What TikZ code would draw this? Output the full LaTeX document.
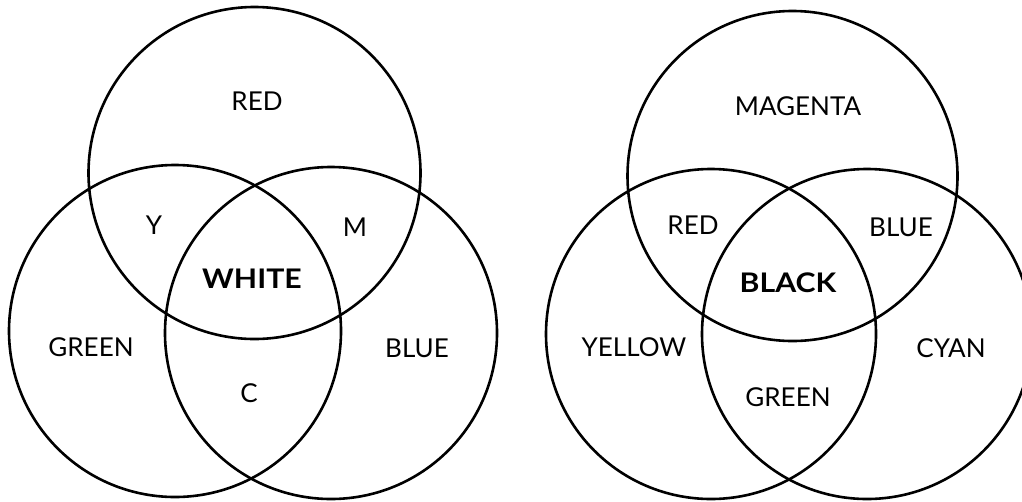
\documentclass[tikz,border=0pt]{standalone}
\usepackage{fontspec}
\setmainfont{Lato}
\begin{document}
\begin{tikzpicture}[x=1pt,y=-1pt,
  ring/.style={draw=black,line width=2.6pt},
  lbl/.style={font=\fontsize{26}{30}\selectfont,inner sep=0pt,anchor=center},
  blbl/.style={lbl,font=\fontsize{27}{30}\selectfont\bfseries,xscale=1.12}]
\useasboundingbox (0,0) rectangle (1022,501);
\clip (0,0) rectangle (1022,501);
% left diagram
\coordinate (LT) at (254.5,173);
\coordinate (LL) at (175,331);
\coordinate (LR) at (331,333);
\draw[ring] (LT) circle[radius=166];
\draw[ring] (LL) circle[radius=166];
\draw[ring] (LR) circle[radius=166];
\node[lbl] (red1) at (257,101) {RED};
\node[lbl] (y1) at (154,225) {Y};
\node[lbl] (m1) at (355,227) {M};
\node[blbl] (white) at (252,279) {WHITE};
\node[lbl] (green1) at (91,347) {GREEN};
\node[lbl] (blue1) at (417,348) {BLUE};
\node[lbl] (c1) at (249,393) {C};
% right diagram
\coordinate (RT) at (792.5,176);
\coordinate (RL) at (711,334);
\coordinate (RR) at (867,334);
\draw[ring] (RT) circle[radius=165];
\draw[ring] (RL) circle[radius=165];
\draw[ring] (RR) circle[radius=165];
\node[lbl] (mag) at (798,106) {MAGENTA};
\node[lbl] (red2) at (693,225) {RED};
\node[lbl] (blue2) at (901,227) {BLUE};
\node[blbl] (black) at (788,283) {BLACK};
\node[lbl] (yel) at (634,347) {YELLOW};
\node[lbl] (cyan) at (951,348) {CYAN};
\node[lbl] (green2) at (788,397) {GREEN};
\end{tikzpicture}
\end{document}
